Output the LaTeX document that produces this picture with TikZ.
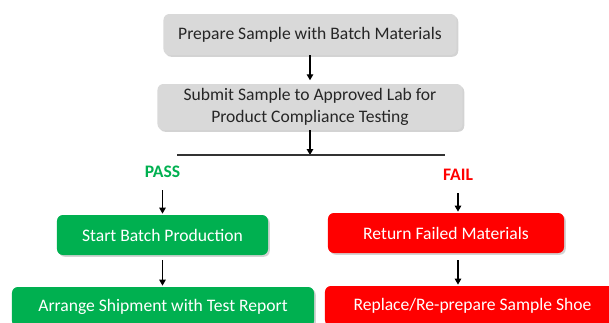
\documentclass[tikz,border=0pt]{standalone}
\usepackage{fontspec}
\setmainfont{Carlito}
\usepackage{xcolor}
\usepackage{tikz}
\definecolor{qcgray}{RGB}{217, 217, 217}
\definecolor{qcgreen}{RGB}{0, 176, 80}
\definecolor{qcred}{RGB}{255, 0, 0}
\usetikzlibrary{shapes,arrows.meta,positioning,shadows}

\begin{document}
\begin{tikzpicture}[x=0.03cm, y=-0.03cm,
    stepbox/.style={rounded corners=5pt, minimum height=1.2cm, align=center, font=\fontsize{15}{18.6}\selectfont,
        drop shadow={opacity=0.35, shadow xshift=1.5pt, shadow yshift=-1.5pt}},
    flow/.style={-{Triangle[length=5pt, width=5.5pt]}, line width=1pt, black, shorten >=1pt}]
    \clip (0,0) rectangle (609,322);
    \node[stepbox, fill=qcgray, text=black!85, minimum width=8.79cm, minimum height=1.23cm] (prep) at (310,34.5) {Prepare Sample with Batch Materials};
    \node[stepbox, fill=qcgray, text=black!85, minimum width=9.15cm, minimum height=1.38cm] (test) at (310,107) {Submit Sample to Approved Lab for\\Product Compliance Testing};
    \coordinate (splitL) at (177,155);
    \coordinate (split) at (310,155);
    \coordinate (splitR) at (445,155);
    \node[font=\fontsize{15}{16}\selectfont\bfseries, text=qcgreen] (pass) at (162.5,172) {PASS};
    \node[font=\fontsize{15}{16}\selectfont\bfseries, text=qcred] (fail) at (458,175) {FAIL};
    \node[stepbox, fill=qcgreen, text=white, minimum width=6.33cm] (batch) at (162.5,235) {Start Batch Production};
    \node[stepbox, fill=qcgreen, text=white, minimum width=9.06cm] (ship) at (163,307) {Arrange Shipment with Test Report};
    \node[stepbox, fill=qcred, text=white, minimum width=7.08cm] (return) at (446,233) {Return Failed Materials};
    \node[stepbox, fill=qcred, text=white, minimum width=8.85cm] (redo) at (472.5,306) {Replace/Re-prepare Sample Shoe};
    \draw[flow, shorten >=3pt] (prep) -- (test);
    \draw[flow, shorten >=0pt] (test) -- (split);
    \draw[line width=1pt, black!80] (splitL) -- (splitR);
    \draw[flow, shorten <=7pt] (pass) -- (batch);
    \draw[flow, shorten <=7pt] (fail) -- (fail |- return.north);
    \draw[flow, shorten <=4pt] (batch) -- (batch |- ship.north);
    \draw[flow, shorten <=6pt] (return.south -| fail) -- (fail |- redo.north);
\end{tikzpicture}
\end{document}
